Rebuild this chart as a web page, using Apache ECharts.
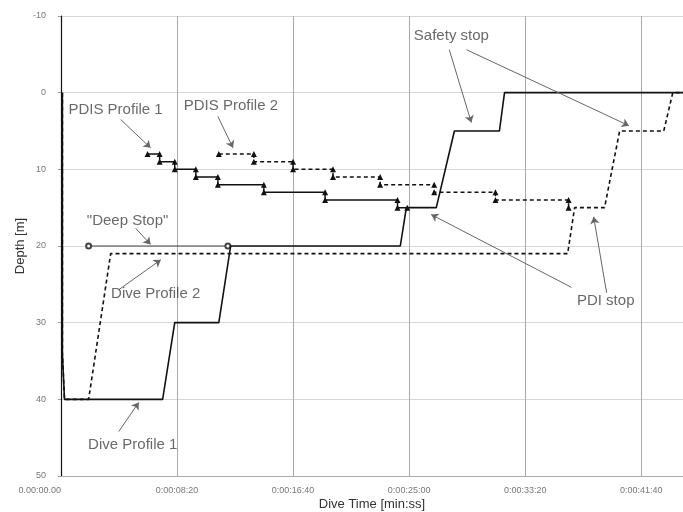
<!DOCTYPE html>
<html>
<head>
<meta charset="utf-8">
<script src="https://cdn.jsdelivr.net/npm/echarts@6/dist/echarts.min.js"></script>
<style>
html,body{margin:0;padding:0;background:#fff;}
#chart{width:683px;height:512px;}
</style>
</head>
<body>
<div id="chart"></div>
<script>
// time in seconds, depth in metres
var xTickLabels = ['0.00:00.00', '0:00:08:20', '0:00:16:40', '0:00:25:00', '0:00:33:20', '0:00:41:40'];
var yTickValues = [-10, 0, 10, 20, 30, 40, 50];

var diveProfile1 = [[6,0],[6,34],[15,40],[438,40],[490,30],[680,30],[731,20],[1462,20],[1488,15],[1617,15],[1695,5],[1889,5],[1911,0],[2680,0]];
var diveProfile2 = [[6,0],[6,34],[15,40],[119,40],[214,21],[2183,21],[2213,15],[2342,15],[2407,5],[2597,5],[2636,0],[2680,0]];
var deepStop = [[119,20],[719,20]];
var pdisProfile1 = [[373,8],[425,8],[425,9],[490,9],[490,10],[581,10],[581,11],[676,11],[676,12],[874,12],[874,13],[1138,13],[1138,14],[1450,14],[1450,15],[1492,15]];
var pdisProfile2 = [[680,8],[831,8],[831,9],[1000,9],[1000,10],[1172,10],[1172,11],[1375,11],[1375,12],[1608,12],[1608,13],[1872,13],[1872,14],[2187,14],[2187,15]];

var annotationTexts = ['PDIS Profile 1', 'PDIS Profile 2', 'Safety stop', 'PDI stop', '"Deep Stop"', 'Dive Profile 2', 'Dive Profile 1'];
var annotationTextPos = [[235,2.2],[732,1.7],[1682,-7.4],[2347,27.1],[287,16.7],[408,26.3],[309,45.9]];
var arrowFrom = [[257,3.5],[676,3.1],[1673,-5.6],[1747,-5.6],[2200,25.4],[2351,26.1],[322,17.7],[249,25.7],[249,44.2]];
var arrowTo   = [[386,7.2],[741,7.2],[1768,3.9],[2447,4.3],[1595,15.9],[2295,16.2],[386,19.8],[430,21.8],[335,40.4]];

var chart = echarts.init(document.getElementById('chart'), null, {renderer: 'canvas'});

var textData = annotationTexts.map(function (t, i) {
  return {name: t, value: annotationTextPos[i]};
});
var arrowData = arrowFrom.map(function (p, i) {
  return {coords: [p, arrowTo[i]]};
});

var option = {
  animation: false,
  backgroundColor: '#ffffff',
  grid: {left: 61, right: 0, top: 16, bottom: 36, containLabel: false, outerBoundsMode: 'none'},
  xAxis: {
    type: 'value',
    min: 0,
    max: 2680,
    interval: 500,
    name: 'Dive Time [min:ss]',
    nameLocation: 'middle',
    nameGap: 22,
    nameMoveOverlap: false,
    nameTextStyle: {fontFamily: 'Liberation Sans', fontSize: 13, color: '#333'},
    axisLine: {show: true, onZero: false, lineStyle: {color: '#aaa', width: 1}},
    axisTick: {show: false},
    splitLine: {show: true, lineStyle: {color: '#a8a8a8', width: 1}},
    axisLabel: {
      fontFamily: 'Liberation Sans',
      fontSize: 9,
      color: '#777',
      margin: 10,
      showMaxLabel: false,
      alignMinLabel: 'right',
      formatter: function (v) {
        var idx = Math.round(v / 500);
        return (Math.abs(v - idx * 500) < 1 && xTickLabels[idx] !== undefined) ? xTickLabels[idx] : '';
      }
    }
  },
  yAxis: {
    type: 'value',
    inverse: true,
    min: yTickValues[0],
    max: yTickValues[yTickValues.length - 1],
    interval: 10,
    name: 'Depth [m]',
    nameLocation: 'middle',
    nameGap: 34,
    nameMoveOverlap: false,
    nameTextStyle: {fontFamily: 'Liberation Sans', fontSize: 13, color: '#333'},
    axisLine: {show: true, lineStyle: {color: '#111', width: 1.2}},
    axisTick: {show: true, length: 3, lineStyle: {color: '#999'}},
    splitLine: {show: true, lineStyle: {color: '#d6d6d6', width: 1}},
    axisLabel: {fontFamily: 'Liberation Sans', fontSize: 9, color: '#777', margin: 15}
  },
  series: [
    {
      name: 'Deep Stop', type: 'line', data: deepStop,
      symbol: 'emptyCircle', symbolSize: 5, showAllSymbol: true,
      lineStyle: {color: '#444', width: 1},
      itemStyle: {color: '#444', borderColor: '#444', borderWidth: 1}, z: 3
    },
    {
      name: 'Dive Profile 1', type: 'line', data: diveProfile1, showSymbol: false,
      lineStyle: {color: '#111', width: 1.6}, z: 4
    },
    {
      name: 'Dive Profile 2', type: 'line', data: diveProfile2, showSymbol: false,
      lineStyle: {color: '#111', width: 1.6, type: [4, 3]}, z: 4
    },
    {
      name: 'PDIS Profile 1', type: 'line', data: pdisProfile1,
      symbol: 'triangle', symbolSize: 6, showAllSymbol: true,
      lineStyle: {color: '#111', width: 1.5},
      itemStyle: {color: '#111'}, z: 5
    },
    {
      name: 'PDIS Profile 2', type: 'line', data: pdisProfile2,
      symbol: 'triangle', symbolSize: 6, showAllSymbol: true,
      lineStyle: {color: '#111', width: 1.5, type: [4, 3]},
      itemStyle: {color: '#111'}, z: 5
    },
    {
      name: 'arrows', type: 'lines', coordinateSystem: 'cartesian2d',
      data: arrowData, symbol: ['none', 'arrow'], symbolSize: 7,
      lineStyle: {color: '#666', width: 1, opacity: 1}, z: 6
    },
    {
      name: 'labels', type: 'scatter', data: textData,
      symbolSize: 1, itemStyle: {color: 'rgba(0,0,0,0)'},
      label: {
        show: true, position: 'inside', formatter: '{b}',
        fontFamily: 'Liberation Sans', fontSize: 15, color: '#444'
      },
      labelLayout: {hideOverlap: false},
      z: 7
    }
  ]
};
chart.setOption(option);
</script>
</body>
</html>
